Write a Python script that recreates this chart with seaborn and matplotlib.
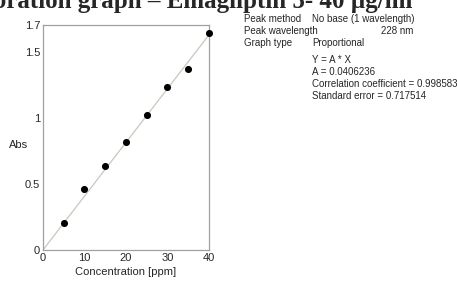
import matplotlib
matplotlib.use("Agg")
import matplotlib.pyplot as plt
import numpy as np
import pandas as pd
import seaborn as sns
from matplotlib.ticker import FixedLocator, MultipleLocator

# calibration standards
conc = [5, 10, 15, 20, 25, 30, 35, 40]
absorbance = [0.206, 0.458, 0.635, 0.818, 1.017, 1.231, 1.370, 1.637]
slope = 0.0406236
fit_x = [0, 40]

yticks = [0, 0.5, 1, 1.5, 1.7]
ytick_labels = ["0", "0.5", "1", "1.5", "1.7"]
xticks = [0, 10, 20, 30, 40]

info_left = ["Peak method", "Peak wavelength", "Graph type"]
info_right = ["No base (1 wavelength)", "", "Proportional"]
stats = ["Y = A * X", "A = 0.0406236",
         "Correlation coefficient = 0.998583", "Standard error = 0.717514"]

sns.set_style("white")
plt.rcParams["font.family"] = ["Liberation Sans Narrow", "Liberation Sans", "DejaVu Sans"]

df = pd.DataFrame({"conc": conc, "abs": absorbance})
fit = pd.DataFrame({"conc": fit_x, "abs": [slope * x for x in fit_x]})

fig = plt.figure(figsize=(4.57, 2.82), dpi=100)
ax = fig.add_axes([0.094, 0.1135, 0.363, 0.7975])

sns.lineplot(data=fit, x="conc", y="abs", ax=ax, color="#c8c8bc", lw=0.9)
sns.scatterplot(data=df, x="conc", y="abs", ax=ax, color="black", s=26,
                edgecolor="black", linewidth=0, zorder=3, clip_on=False)

ax.set_xlim(0, 40)
ax.set_ylim(0, 1.7)
ax.xaxis.set_major_locator(FixedLocator(xticks))
ax.xaxis.set_minor_locator(MultipleLocator(5))
ax.yaxis.set_major_locator(FixedLocator(yticks))
ax.set_yticklabels(ytick_labels)
ax.yaxis.set_minor_locator(FixedLocator([0.25, 0.75, 1.25]))
ax.tick_params(which="both", direction="in", length=4, width=0.8,
               color="#909090", labelsize=8, pad=2)
for s in ax.spines.values():
    s.set_color("#a0a0a0")
    s.set_linewidth(0.9)

ax.set_xlabel("Concentration [ppm]", fontsize=8, labelpad=3)
ax.set_ylabel("Abs", fontsize=8, rotation=0, va="center")
ax.yaxis.set_label_coords(-0.15, 0.467)

# title sits partly above the top edge, as in the scanned figure
fig.text(413 / 457, 1 - 8 / 282, "Calibration graph \u2013 Emagliptin 5- 40 \u00b5g/ml",
         ha="right", va="baseline", fontsize=18, fontweight="bold",
         family=["Liberation Serif", "DejaVu Serif"])

for i, (l, r) in enumerate(zip(info_left, info_right)):
    y = 1 - (22 + 12 * i) / 282
    fig.text(244 / 457, y, l, fontsize=7, va="baseline")
    fig.text(312 / 457, y, r, fontsize=7, va="baseline")
fig.text(413 / 457, 1 - 34 / 282, "228 nm", fontsize=7, va="baseline", ha="right")
for i, t in enumerate(stats):
    fig.text(312 / 457, 1 - (63 + 12 * i) / 282, t, fontsize=7, va="baseline")

fig.savefig("out.png", dpi=100)
